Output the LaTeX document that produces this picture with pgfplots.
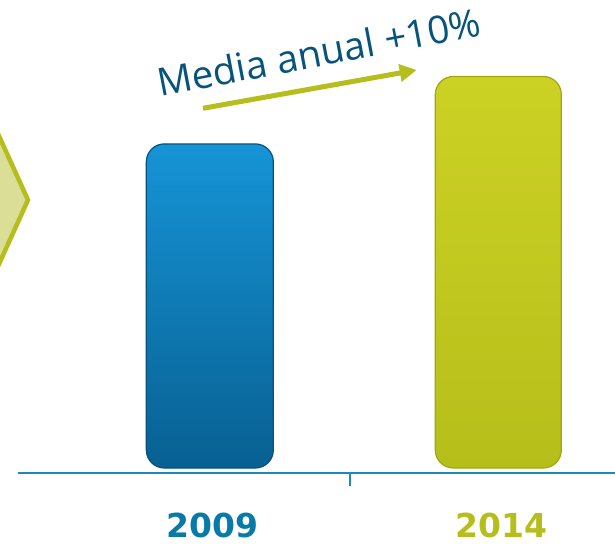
\documentclass[border=0pt]{standalone}
\usepackage{pgfplots}
\pgfplotsset{compat=1.18}
\usepackage{fontspec}
\setmainfont{Open Sans}
\newfontfamily\yearfont{DejaVu Sans}
\usetikzlibrary{arrows.meta}
\definecolor{barblueT}{RGB}{22,148,214}
\definecolor{barblueB}{RGB}{8,96,146}
\definecolor{barblueE}{RGB}{6,82,124}
\definecolor{baryelT}{RGB}{204,210,36}
\definecolor{baryelB}{RGB}{182,190,26}
\definecolor{baryelE}{RGB}{160,166,20}
\definecolor{labblue}{RGB}{8,122,168}
\definecolor{labyel}{RGB}{182,190,30}
\definecolor{txtblue}{RGB}{6,84,124}
\definecolor{axblue}{RGB}{30,136,184}
\definecolor{hexfill}{RGB}{218,222,150}
\begin{document}
\begin{tikzpicture}
\useasboundingbox (0pt,0pt) rectangle (615pt,546pt);
\filldraw[fill=hexfill, draw=labyel, line width=4.5pt, miter limit=10] (-20pt,452pt) -- (28pt,346pt) -- (-20pt,240pt) -- cycle;
\begin{axis}[
  at={(18pt,73pt)}, anchor=south west,
  scale only axis, width=597pt, height=473pt,
  xmin=-0.665, xmax=1.4045, ymin=-1.54, ymax=144.4,
  axis x line=bottom, axis y line=none,
  x axis line style={-, draw=axblue, line width=1.5pt},
  xtick={0,1},
  xticklabels={\textcolor{labblue}{2009},\textcolor{labyel}{2014}},
  major tick length=0pt,
  xticklabel style={yshift=-36.5pt, xshift=3pt, font=\yearfont\bfseries\fontsize{33}{33}\selectfont},
  extra x ticks={0.486}, extra x tick labels={},
  extra x tick style={major tick length=13pt, tick align=outside, tick style={draw=axblue, line width=1.5pt}},
  clip=false,
]
\addplot[ybar, bar width=127pt, draw=barblueE, line width=1.2pt, rounded corners=18pt, top color=barblueT, bottom color=barblueB] coordinates {(0,100)};
\addplot[ybar, bar width=126pt, draw=baryelE, line width=1.2pt, rounded corners=18pt, top color=baryelT, bottom color=baryelB] coordinates {(1,120.8)};
\end{axis}
\draw[labyel, line width=5pt, -{Triangle[length=17pt,width=17pt]}] (203pt,437.7pt) -- (416.7pt,476pt);
\node[rotate=10.8, anchor=base west, inner sep=0pt, text=txtblue, font=\fontsize{38.5}{38.5}\selectfont] at (160pt,449pt) {Media anual +10\%};
\end{tikzpicture}
\end{document}
